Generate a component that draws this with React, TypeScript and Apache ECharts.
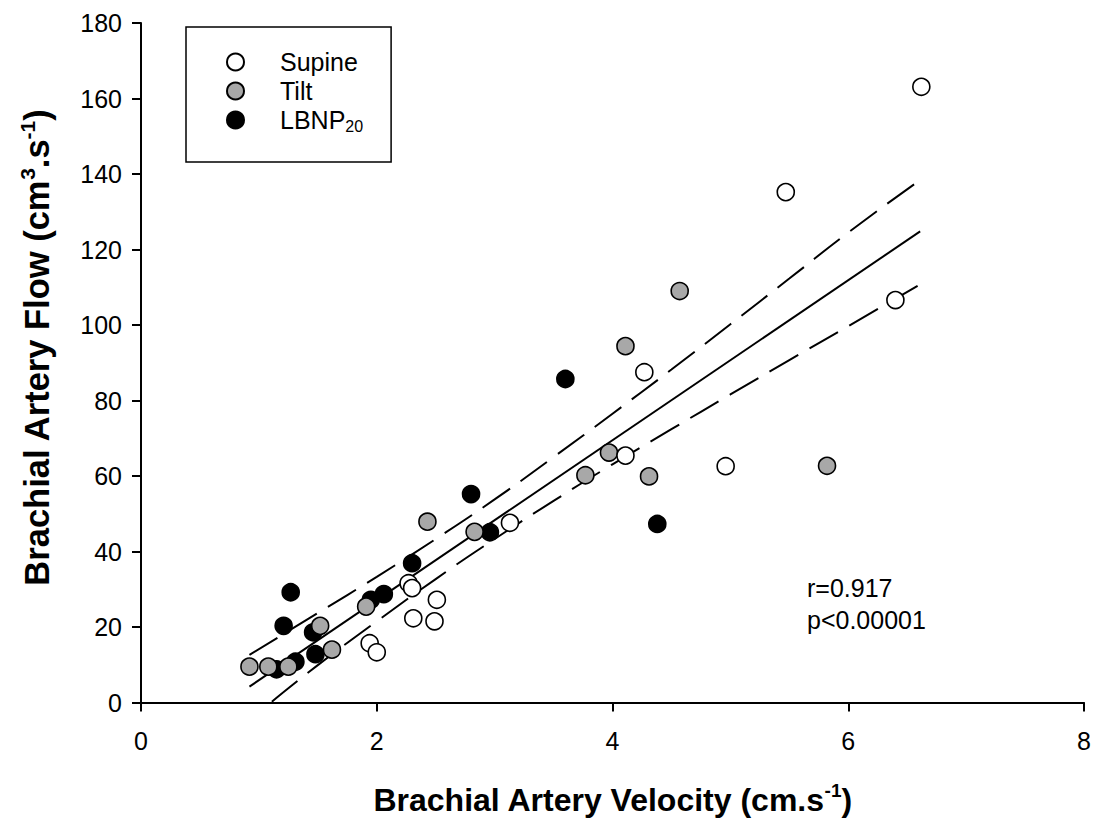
import React, { useEffect, useRef } from "react";
import * as echarts from "echarts";

const FONT = "'Liberation Sans', Arial, Helvetica, sans-serif";

const xTicks = { min: 0, max: 8, interval: 2 };
const yTicks = { min: 0, max: 180, interval: 20 };

const supineX = [6.62, 5.47, 6.40, 4.27, 4.11, 4.96, 3.13, 2.27, 2.30, 2.51, 2.31, 2.49, 1.94, 2.00];
const supineY = [163.1, 135.2, 106.6, 87.5, 65.4, 62.6, 47.6, 31.6, 30.3, 27.2, 22.3, 21.5, 15.7, 13.3];

const tiltX = [4.57, 4.11, 3.97, 3.77, 4.31, 5.82, 2.43, 2.83, 1.91, 1.52, 1.62, 0.92, 1.08, 1.25];
const tiltY = [109.0, 94.4, 66.2, 60.2, 59.9, 62.7, 47.9, 45.2, 25.4, 20.3, 14.0, 9.5, 9.5, 9.5];

const lbnpX = [3.60, 2.80, 4.38, 2.96, 2.30, 1.27, 2.06, 1.95, 1.21, 1.46, 1.48, 1.31, 1.15];
const lbnpY = [85.7, 55.2, 47.3, 45.1, 36.9, 29.2, 28.7, 27.2, 20.3, 18.6, 12.8, 10.8, 8.8];

const fitX = [0.92, 6.61];
const fitY = [4.2, 124.8];

const upperX = [0.92, 1.5, 2, 2.5, 3, 3.5, 4, 4.5, 5, 5.5, 6, 6.61];
const upperY = [12.6, 23.7, 33.3, 43.3, 53.8, 65.0, 76.5, 88.2, 100.2, 112.3, 124.5, 138.4];

const lowerX = [1.11, 1.5, 2, 2.5, 3, 3.5, 4, 4.5, 5, 5.5, 6, 6.6];
const lowerY = [0.2, 9.9, 21.5, 32.7, 43.3, 53.4, 63.1, 72.4, 81.6, 90.7, 99.7, 110.6];

const legendNames = ["Supine", "Tilt", "LBNP20"];
const statsText = ["r=0.917", "p<0.00001"];

const zip = (xs: number[], ys: number[]) => xs.map((x, i) => [x, ys[i]]);

export default function App() {
  const ref = useRef<HTMLDivElement>(null);
  useEffect(() => {
    if (!ref.current) return;
    const chart = echarts.init(ref.current, null, { renderer: "svg" });
    const markerBase = { borderColor: "#000", borderWidth: 1.6, opacity: 1 };
    const lineBase = { color: "#000", width: 2 };
    chart.setOption({
      animation: false,
      backgroundColor: "#fff",
      textStyle: { fontFamily: FONT, color: "#000" },
      grid: {
        left: 141,
        right: 19,
        top: 23,
        bottom: 116.5,
        containLabel: false,
        outerBoundsMode: "none",
      },
      xAxis: {
        type: "value",
        ...xTicks,
        name: "{t|Brachial Artery Velocity (cm.s}{s|-1}{t|)}",
        nameLocation: "middle",
        nameGap: 78,
        nameTextStyle: {
          rich: {
            t: { fontSize: 32, fontWeight: "bold", fontFamily: FONT, color: "#000", lineHeight: 38 },
            s: { fontSize: 19, fontWeight: "bold", fontFamily: FONT, color: "#000", verticalAlign: "top" },
          },
        },
        axisLine: { show: true, lineStyle: { color: "#000", width: 2 } },
        axisTick: { show: true, inside: false, length: 9, lineStyle: { color: "#000", width: 2 } },
        axisLabel: { fontSize: 25, color: "#000", fontFamily: FONT, margin: 26 },
        splitLine: { show: false },
      },
      yAxis: {
        type: "value",
        ...yTicks,
        name: "{t|Brachial Artery Flow (cm}{s|3}{t|.s}{s|-1}{t|)}",
        nameLocation: "middle",
        nameRotate: 90,
        nameGap: 84,
        nameTextStyle: {
          padding: [0, 0, 0, 30],
          rich: {
            t: { fontSize: 34.5, fontWeight: "bold", fontFamily: FONT, color: "#000", lineHeight: 40 },
            s: { fontSize: 21, fontWeight: "bold", fontFamily: FONT, color: "#000", verticalAlign: "top" },
          },
        },
        axisLine: { show: true, lineStyle: { color: "#000", width: 2 } },
        axisTick: { show: true, inside: false, length: 9, lineStyle: { color: "#000", width: 2 } },
        axisLabel: { fontSize: 25, color: "#000", fontFamily: FONT, margin: 19 },
        splitLine: { show: false },
      },
      legend: {
        orient: "vertical",
        left: 186,
        top: 27,
        padding: [21, 28, 28, 40],
        itemWidth: 17,
        itemHeight: 17,
        itemGap: 1,
        borderColor: "#000",
        borderWidth: 1.5,
        data: legendNames,
        formatter: (name: string) => (name === "LBNP20" ? "{a|LBNP}{b|20}" : "{a|" + name + "}"),
        textStyle: {
          fontSize: 25,
          color: "#000",
          fontFamily: FONT,
          lineHeight: 28,
          rich: {
            a: { fontSize: 25, fontFamily: FONT, color: "#000", lineHeight: 28, padding: [0, 0, 0, 31] },
            b: { fontSize: 16, fontFamily: FONT, color: "#000", verticalAlign: "bottom" },
          },
        },
      },
      graphic: [
        {
          type: "text",
          left: 807,
          top: 572,
          style: {
            text: statsText.join("\n"),
            font: `25px ${FONT}`,
            fill: "#000",
            lineHeight: 32,
          },
        },
      ],
      series: [
        {
          name: "fit",
          type: "line",
          data: zip(fitX, fitY),
          showSymbol: false,
          symbol: "none",
          lineStyle: { ...lineBase },
          silent: true,
          z: 1,
        },
        {
          name: "upper95",
          type: "line",
          data: zip(upperX, upperY),
          smooth: true,
          showSymbol: false,
          symbol: "none",
          lineStyle: { ...lineBase, type: [33, 13] },
          silent: true,
          z: 1,
        },
        {
          name: "lower95",
          type: "line",
          data: zip(lowerX, lowerY),
          smooth: true,
          showSymbol: false,
          symbol: "none",
          lineStyle: { ...lineBase, type: [33, 13] },
          silent: true,
          z: 1,
        },
        {
          name: "LBNP20",
          type: "scatter",
          data: zip(lbnpX, lbnpY),
          symbol: "circle",
          symbolSize: 17,
          itemStyle: { ...markerBase, color: "#000" },
          z: 2,
        },
        {
          name: "Tilt",
          type: "scatter",
          data: zip(tiltX, tiltY),
          symbol: "circle",
          symbolSize: 17,
          itemStyle: { ...markerBase, color: "#a8a8a8" },
          z: 3,
        },
        {
          name: "Supine",
          type: "scatter",
          data: zip(supineX, supineY),
          symbol: "circle",
          symbolSize: 17,
          itemStyle: { ...markerBase, color: "#fff" },
          z: 4,
        },
      ],
    });
    return () => chart.dispose();
  }, []);
  return (
    <div
      ref={ref}
      style={{ position: "fixed", left: 0, top: 0, width: 1103, height: 819, background: "#fff" }}
    />
  );
}
